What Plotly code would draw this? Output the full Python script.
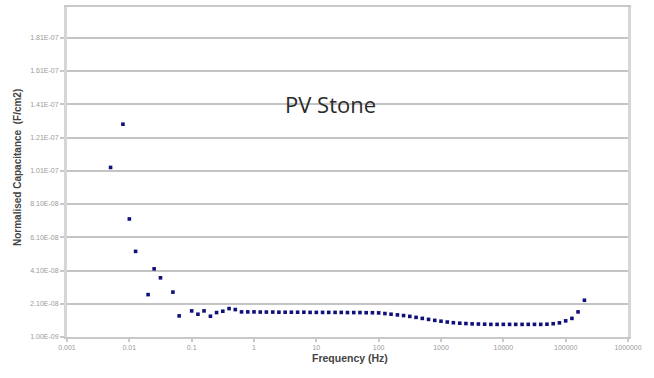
import plotly.graph_objects as go

# Frequency (Hz)
freq = [0.005, 0.0079, 0.01, 0.0126, 0.02, 0.025, 0.0316, 0.05, 0.063,
        0.1, 0.126, 0.158, 0.2, 0.251, 0.316, 0.398, 0.501, 0.631, 0.794,
        1, 1.26, 1.58, 2, 2.51, 3.16, 3.98, 5.01, 6.31, 7.94,
        10, 12.6, 15.8, 20, 25.1, 31.6, 39.8, 50.1, 63.1, 79.4,
        100, 126, 158, 200, 251, 316, 398, 501, 631, 794,
        1000, 1260, 1580, 2000, 2510, 3160, 3980, 5010, 6310, 7940,
        10000, 12600, 15800, 20000, 25100, 31600, 39800, 50100, 63100, 79400,
        100000, 126000, 158000, 200000]

# Normalised capacitance (F/cm2)
cap = [1.03e-07, 1.29e-07, 7.2e-08, 5.25e-08, 2.65e-08, 4.2e-08, 3.66e-08, 2.8e-08, 1.37e-08,
       1.67e-08, 1.47e-08, 1.67e-08, 1.35e-08, 1.57e-08, 1.65e-08, 1.81e-08, 1.75e-08, 1.61e-08, 1.61e-08,
       1.61e-08, 1.60e-08, 1.60e-08, 1.60e-08, 1.59e-08, 1.59e-08, 1.59e-08, 1.59e-08, 1.59e-08, 1.58e-08,
       1.58e-08, 1.58e-08, 1.58e-08, 1.58e-08, 1.58e-08, 1.57e-08, 1.57e-08, 1.57e-08, 1.56e-08, 1.56e-08,
       1.55e-08, 1.51e-08, 1.47e-08, 1.43e-08, 1.39e-08, 1.34e-08, 1.28e-08, 1.22e-08, 1.16e-08, 1.10e-08,
       1.05e-08, 1.00e-08, 0.96e-08, 0.93e-08, 0.91e-08, 0.89e-08, 0.88e-08, 0.87e-08, 0.86e-08, 0.86e-08,
       0.86e-08, 0.86e-08, 0.86e-08, 0.86e-08, 0.86e-08, 0.86e-08, 0.86e-08, 0.87e-08, 0.90e-08, 0.95e-08,
       1.07e-08, 1.22e-08, 1.61e-08, 2.31e-08]

x_tickvals = [0.001, 0.01, 0.1, 1, 10, 100, 1000, 10000, 100000, 1000000]
x_ticktext = ["0.001", "0.01", "0.1", "1", "10", "100", "1000", "10000", "100000", "1000000"]

y_tickvals = [1.0e-09, 2.1e-08, 4.1e-08, 6.1e-08, 8.1e-08, 1.01e-07, 1.21e-07, 1.41e-07, 1.61e-07, 1.81e-07]
y_ticktext = ["1.00E-09", "2.10E-08", "4.10E-08", "6.10E-08", "8.10E-08",
              "1.01E-07", "1.21E-07", "1.41E-07", "1.61E-07", "1.81E-07"]

fig = go.Figure()
fig.add_trace(go.Scatter(
    x=freq, y=cap, mode="markers",
    marker=dict(symbol="square", size=3.6, color="#10107a", line=dict(width=0)),
    showlegend=False,
))

fig.update_layout(
    width=654, height=378,
    margin=dict(l=67, r=26, t=5, b=41),
    paper_bgcolor="white", plot_bgcolor="white",
    font=dict(family="Liberation Sans, Arial, sans-serif", color="#999999"),
    xaxis=dict(
        type="log", range=[-3, 6],
        tickvals=x_tickvals, ticktext=x_ticktext,
        tickfont=dict(size=7, color="#9a9a9a"),
        showgrid=False, zeroline=False,
        showline=True, linecolor="#c8c8c8", linewidth=2, mirror=True,
        ticks="outside", ticklen=3, tickcolor="#c8c8c8", tickwidth=2,
    ),
    yaxis=dict(
        range=[1.0e-09, 1.995e-07],
        tickvals=y_tickvals, ticktext=y_ticktext,
        tickfont=dict(size=7, color="#9a9a9a"),
        showgrid=True, gridcolor="#c4c4c4", gridwidth=2,
        zeroline=False,
        showline=True, linecolor="#d6d6d6", linewidth=3, mirror=True,
        ticks="outside", ticklen=4, tickcolor="#c8c8c8", tickwidth=2,
    ),
    annotations=[
        dict(text="PV Stone", xref="paper", yref="paper",
             x=(330 - 67) / 561, y=1 - (103 - 5) / 332,
             xanchor="center", yanchor="middle", showarrow=False,
             font=dict(family="Open Sans, sans-serif", size=22, color="#2a2a2a")),
        dict(text="<b>Frequency (Hz)</b>", xref="paper", yref="paper",
             x=(350 - 67) / 561, y=1 - (358 - 5) / 332,
             xanchor="center", yanchor="middle", showarrow=False,
             font=dict(family="Liberation Sans, Arial, sans-serif", size=10.5, color="#444444")),
        dict(text="<b>Normalised Capacitance  (F/cm2)</b>", xref="paper", yref="paper",
             x=(17 - 67) / 561, y=1 - (167 - 5) / 332, textangle=-90,
             xanchor="center", yanchor="middle", showarrow=False,
             font=dict(family="Liberation Sans, Arial, sans-serif", size=10, color="#444444")),
    ],
)

fig.write_html("out.html", config={"displayModeBar": False},
               post_script="document.body.style.margin='0';")
